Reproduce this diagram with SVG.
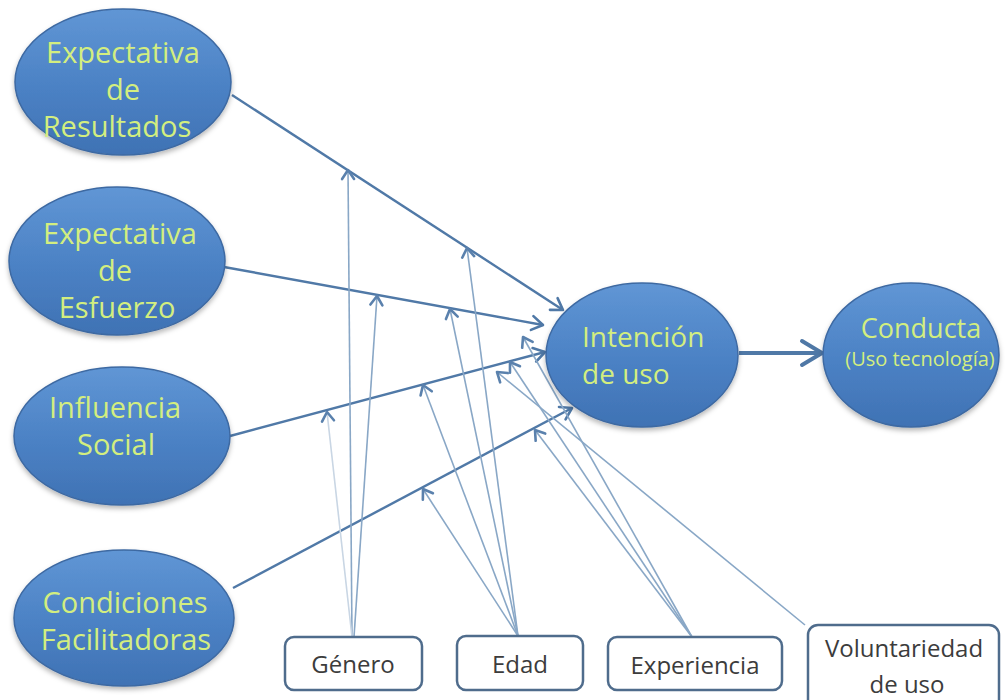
<svg xmlns="http://www.w3.org/2000/svg" width="1005" height="700" viewBox="0 0 1005 700">
  <defs>
    <linearGradient id="blueFill" x1="0" y1="0" x2="0" y2="1">
      <stop offset="0" stop-color="#6096d5"/>
      <stop offset="0.55" stop-color="#4b81c4"/>
      <stop offset="1" stop-color="#3f72b4"/>
    </linearGradient>
    <filter id="shadow" x="-10%" y="-10%" width="120%" height="130%">
      <feDropShadow dx="0" dy="3" stdDeviation="2.5" flood-color="#000" flood-opacity="0.28"/>
    </filter>
    <marker id="headMain" markerUnits="userSpaceOnUse" viewBox="-14 -10 16 20" markerWidth="16" markerHeight="20" refX="0" refY="0" orient="auto">
      <path d="M-11,-7 L0,0 L-11,7" fill="none" stroke="#4f78a6" stroke-width="2.6" stroke-linecap="round" stroke-linejoin="round"/>
    </marker>
    <marker id="headMod" markerUnits="userSpaceOnUse" viewBox="-12 -9 14 18" markerWidth="14" markerHeight="18" refX="0" refY="0" orient="auto">
      <path d="M-9,-6 L0,0 L-9,6" fill="none" stroke="#5a81ad" stroke-width="2.6" stroke-linecap="round" stroke-linejoin="round"/>
    </marker>
    <marker id="headBig" markerUnits="userSpaceOnUse" viewBox="-24 -15 27 30" markerWidth="27" markerHeight="30" refX="0" refY="0" orient="auto">
      <path d="M-20,-12 L0,0 L-20,12" fill="none" stroke="#4f78a6" stroke-width="4" stroke-linecap="round" stroke-linejoin="round"/>
    </marker>
  </defs>
  <style>
    .oval { fill: url(#blueFill); stroke: #3d69a2; stroke-width: 1.5; filter: url(#shadow); }
    .ovalText { font-family: "Open Sans", "Liberation Sans", sans-serif; font-size: 29px; fill: #d3ee7f; text-anchor: middle; }
    .box { fill: #ffffff; stroke: #4f6c8c; stroke-width: 2.5; }
    .boxText { font-family: "Open Sans", "Liberation Sans", sans-serif; font-size: 24px; fill: #3c3c3c; text-anchor: middle; }
    .main { stroke: #5079a7; stroke-width: 2.4; fill: none; marker-end: url(#headMain); }
    .mod { stroke: #89a7c6; stroke-width: 1.6; fill: none; marker-end: url(#headMod); }
    .modFaint { stroke: #c9d6e4; stroke-width: 1.6; fill: none; marker-end: url(#headMod); }
    .big { stroke: #5079a7; stroke-width: 4; fill: none; marker-end: url(#headBig); }
  </style>

  <rect width="1005" height="700" fill="#ffffff"/>

  <!-- connectors -->
  <g id="connectors">
    <!-- determinants into intention -->
    <line class="main" x1="232" y1="95" x2="563" y2="310"/>
    <line class="main" x1="224" y1="267" x2="543" y2="325"/>
    <line class="main" x1="230" y1="436" x2="545" y2="352"/>
    <line class="main" x1="233" y1="588" x2="572" y2="408"/>
    <!-- intention into behaviour -->
    <line class="big" x1="739" y1="353" x2="822" y2="353"/>
    <!-- moderators: Genero -->
    <line class="mod" x1="352" y1="637" x2="348" y2="170"/>
    <line class="mod" x1="354" y1="637" x2="377" y2="296"/>
    <line class="modFaint" x1="352" y1="637" x2="327" y2="412"/>
    <!-- moderators: Edad -->
    <line class="mod" x1="518" y1="636" x2="467" y2="248"/>
    <line class="mod" x1="518" y1="636" x2="450" y2="309"/>
    <line class="mod" x1="518" y1="636" x2="423" y2="385"/>
    <line class="mod" x1="518" y1="636" x2="423" y2="489"/>
    <!-- moderators: Experiencia -->
    <line class="mod" x1="692" y1="637" x2="523" y2="337"/>
    <line class="mod" x1="692" y1="637" x2="510" y2="362"/>
    <line class="mod" x1="692" y1="637" x2="535" y2="430"/>
    <!-- moderator: Voluntariedad -->
    <line class="mod" x1="805" y1="625" x2="497" y2="372"/>
  </g>

  <!-- determinant nodes -->
  <g id="expectativa-resultados">
    <ellipse class="oval" cx="123" cy="82" rx="108" ry="73"/>
    <text class="ovalText" x="123" y="63">Expectativa</text>
    <text class="ovalText" x="123" y="100">de</text>
    <text class="ovalText" x="117" y="137">Resultados</text>
  </g>
  <g id="expectativa-esfuerzo">
    <ellipse class="oval" cx="117" cy="261" rx="108" ry="74"/>
    <text class="ovalText" x="120" y="244">Expectativa</text>
    <text class="ovalText" x="115" y="281">de</text>
    <text class="ovalText" x="117" y="318">Esfuerzo</text>
  </g>
  <g id="influencia-social">
    <ellipse class="oval" cx="122" cy="436" rx="108" ry="69"/>
    <text class="ovalText" x="115" y="418">Influencia</text>
    <text class="ovalText" x="116" y="455">Social</text>
  </g>
  <g id="condiciones-facilitadoras">
    <ellipse class="oval" cx="124" cy="618" rx="110" ry="68"/>
    <text class="ovalText" x="125" y="613">Condiciones</text>
    <text class="ovalText" x="126" y="650">Facilitadoras</text>
  </g>

  <!-- outcome nodes -->
  <g id="intencion-uso">
    <ellipse class="oval" cx="642" cy="355" rx="96" ry="72"/>
    <text class="ovalText" x="582" y="347" style="text-anchor:start;font-size:28px">Intención</text>
    <text class="ovalText" x="582" y="384" style="text-anchor:start;font-size:28px">de uso</text>
  </g>
  <g id="conducta">
    <ellipse class="oval" cx="911" cy="355" rx="88" ry="72"/>
    <text class="ovalText" x="921" y="338" style="font-size:27px">Conducta</text>
    <text class="ovalText" x="920" y="366" style="font-size:20px">(Uso tecnología)</text>
  </g>

  <!-- moderator boxes -->
  <g id="genero">
    <rect class="box" x="285" y="637" width="137" height="53" rx="9"/>
    <text class="boxText" x="353" y="673">Género</text>
  </g>
  <g id="edad">
    <rect class="box" x="457" y="636" width="126" height="54" rx="9"/>
    <text class="boxText" x="520" y="673">Edad</text>
  </g>
  <g id="experiencia">
    <rect class="box" x="608" y="637" width="174" height="53" rx="9"/>
    <text class="boxText" x="695" y="674">Experiencia</text>
  </g>
  <g id="voluntariedad">
    <rect class="box" x="808" y="625" width="191" height="85" rx="10"/>
    <text class="boxText" x="904" y="657">Voluntariedad</text>
    <text class="boxText" x="907" y="693">de uso</text>
  </g>
</svg>
